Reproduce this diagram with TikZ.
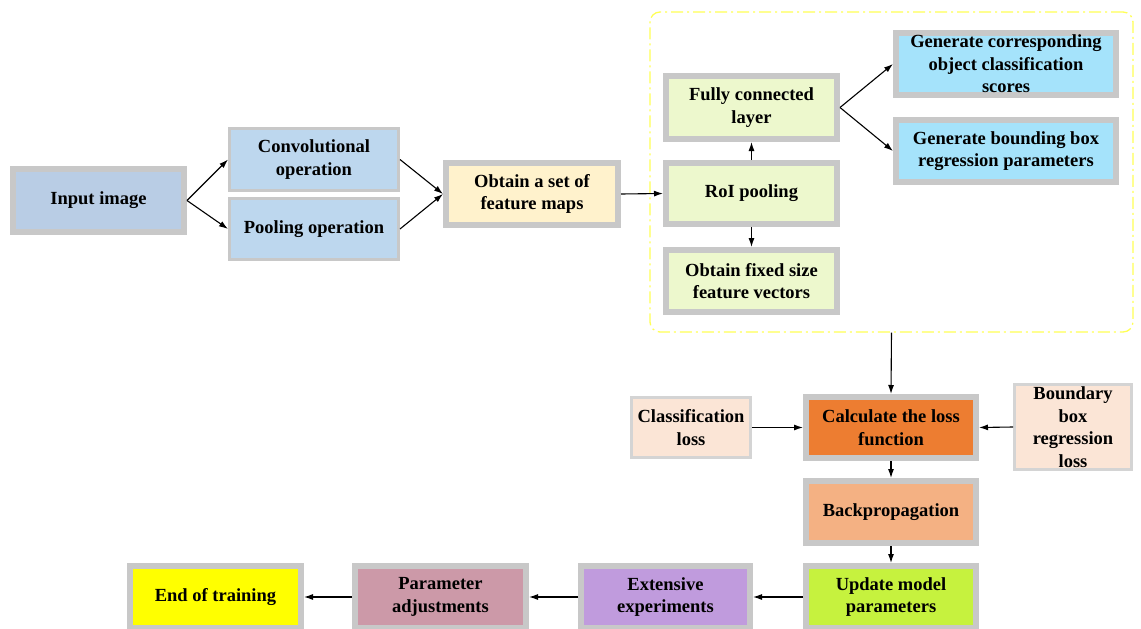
\documentclass[tikz,border=0pt]{standalone}
\usepackage{fontspec}
\setmainfont{Liberation Serif}
\usetikzlibrary{arrows.meta}

\definecolor{edgegray}{HTML}{C8C8C8}
\definecolor{lightedge}{HTML}{D4D4D4}
\definecolor{inblue}{HTML}{B9CDE5}
\definecolor{opblue}{HTML}{BDD7EE}
\definecolor{mapcream}{HTML}{FFF2CC}
\definecolor{roigreen}{HTML}{EDF8CD}
\definecolor{genblue}{HTML}{A5E3FB}
\definecolor{lossorange}{HTML}{ED7D31}
\definecolor{peach}{HTML}{FBE5D6}
\definecolor{bpsalmon}{HTML}{F4B183}
\definecolor{updlime}{HTML}{C6F23E}
\definecolor{extviolet}{HTML}{C09BDD}
\definecolor{parmauve}{HTML}{CC99A8}
\definecolor{endyellow}{HTML}{FFFF00}
\definecolor{groupyellow}{HTML}{FFFF55}

\begin{document}
\begin{tikzpicture}[x=1pt,y=-1pt,
  box/.style={draw=edgegray, line width=6pt, inner sep=0pt, align=center,
    font=\fontsize{18.5}{22.5}\selectfont\bfseries},
  thinbox/.style={box, line width=3pt},
  lossbox/.style={box, draw=lightedge, line width=3pt, fill=peach},
  arr/.style={-{Latex[length=9pt,width=6pt]}, line width=1.1pt, black},
  group/.style={draw=groupyellow, line width=1.3pt, rounded corners=10pt,
    dash pattern=on 12pt off 4pt on 2pt off 4pt, inner sep=0pt}
]
\useasboundingbox (0,0) rectangle (1141,629);

% feature extraction
\node[box, fill=inblue, minimum width=171pt, minimum height=63pt] (in) at (98.5,200.5) {Input image};
\node[thinbox, fill=opblue, minimum width=169pt, minimum height=62pt] (conv) at (314,159.5) {Convolutional\\operation};
\node[thinbox, fill=opblue, minimum width=169pt, minimum height=61pt] (pool) at (314,229) {Pooling operation};
\node[box, fill=mapcream, minimum width=172pt, minimum height=62pt] (fmap) at (532,194) {Obtain a set of\\feature maps};

% RoI head
\node[group, minimum width=483pt, minimum height=320pt] (grp) at (891.5,172) {};
\node[box, fill=roigreen, minimum width=171pt, minimum height=63pt] (fc) at (751.5,107.5) {Fully connected\\layer};
\node[box, fill=roigreen, minimum width=171pt, minimum height=61pt] (roi) at (751.5,193.5) {RoI pooling};
\node[box, fill=roigreen, minimum width=171pt, minimum height=62pt] (fix) at (751.5,281) {Obtain fixed size\\feature vectors};
\node[box, fill=genblue, minimum width=220pt, minimum height=62pt] (gen1) at (1006,64) {Generate corresponding\\object classification\\scores};
\node[box, fill=genblue, minimum width=220pt, minimum height=62pt] (gen2) at (1006,151) {Generate bounding box\\regression parameters};

% training loop
\node[box, fill=lossorange, minimum width=170pt, minimum height=61pt] (loss) at (891,427.5) {Calculate the loss\\function};
\node[lossbox, minimum width=119pt, minimum height=60pt] (cls) at (691,427.5) {Classification\\loss};
\node[lossbox, minimum width=117pt, minimum height=85pt] (bbr) at (1073,427) {Boundary\\box\\regression\\loss};
\node[box, fill=bpsalmon, minimum width=170pt, minimum height=62pt] (bp) at (891,512) {Backpropagation};
\node[box, fill=updlime, minimum width=170pt, minimum height=62pt] (upd) at (891,597) {Update model\\parameters};
\node[box, fill=extviolet, minimum width=169pt, minimum height=62pt] (ext) at (665.5,597) {Extensive\\experiments};
\node[box, fill=parmauve, minimum width=171pt, minimum height=62pt] (par) at (440.5,597) {Parameter\\adjustments};
\node[box, fill=endyellow, minimum width=171pt, minimum height=62pt] (end) at (215.5,597) {End of training};

% connectors
\draw[arr] (in.east) -- (conv.west);
\draw[arr] (in.east) -- (pool.west);
\draw[arr] (conv.east) -- (fmap.west);
\draw[arr] (pool.east) -- (fmap.west);
\draw[arr] (fmap.east) -- (roi.west);
\draw[arr] (roi.north) -- (fc.south);
\draw[arr] (roi.south) -- (fix.north);
\draw[arr] (fc.east) -- (gen1.west);
\draw[arr] (fc.east) -- (gen2.west);
\draw[arr] (grp.south) -- (loss.north);
\draw[arr] (cls.east) -- (loss.west);
\draw[arr] (bbr.west) -- (loss.east);
\draw[arr] (loss.south) -- (bp.north);
\draw[arr] (bp.south) -- (upd.north);
\draw[arr] (upd.west) -- (ext.east);
\draw[arr] (ext.west) -- (par.east);
\draw[arr] (par.west) -- (end.east);
\end{tikzpicture}
\end{document}
